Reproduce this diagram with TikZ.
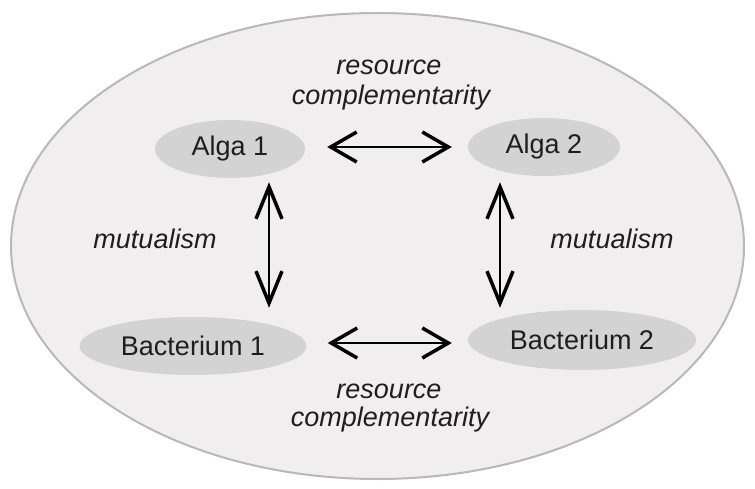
\documentclass[tikz,border=0pt]{standalone}
\usepackage{fontspec}
\setmainfont{Liberation Sans}
\usetikzlibrary{shapes.geometric,arrows.meta}
\definecolor{dishfill}{HTML}{F0EEEE}
\definecolor{dishline}{HTML}{B8B8B8}
\definecolor{orgfill}{HTML}{D3D3D3}
\definecolor{txt}{HTML}{1E1E1E}
\begin{document}
\begin{tikzpicture}[x=1pt,y=-1pt,
  org/.style={ellipse, fill=orgfill, inner sep=0pt, text=txt, font=\fontsize{27}{32}\selectfont},
  lbl/.style={text=txt, font=\fontsize{27}{32}\selectfont\itshape, inner sep=0pt, anchor=base},
  hlink/.style={draw=black, line width=2pt, {Straight Barb[length=26pt,width=30pt,line width=3.5pt]}-{Straight Barb[length=26pt,width=30pt,line width=3.5pt]}},
  vlink/.style={draw=black, line width=2pt, {Straight Barb[length=32pt,width=26pt,line width=3.5pt]}-{Straight Barb[length=32pt,width=26pt,line width=3.5pt]}}]
\useasboundingbox (0,0) rectangle (755,489);
\node[ellipse, draw=dishline, line width=2pt, fill=dishfill, inner sep=0pt,
      minimum width=733pt, minimum height=466pt] (dish) at (377.5,246) {};
\node[org, minimum width=150pt, minimum height=58pt] (a1) at (230,149) {Alga 1};
\node[org, minimum width=152pt, minimum height=58pt] (a2) at (544,147) {Alga 2};
\node[org, minimum width=227pt, minimum height=58pt] (b1) at (193,346) {Bacterium 1};
\node[org, minimum width=228pt, minimum height=60pt] (b2) at (582,340) {Bacterium 2};
\draw[hlink] ([xshift=22pt,yshift=2pt]a1.east) -- ([xshift=-16pt]a2.west);
\draw[hlink] ([xshift=21pt,yshift=3pt]b1.east) -- ([xshift=-16pt,yshift=-3pt]b2.west);
\draw[vlink] ([xshift=39pt,yshift=-4pt]a1.south) -- ([xshift=76pt,yshift=9pt]b1.north);
\draw[vlink] ([xshift=-44pt,yshift=-6pt]a2.south) -- ([xshift=-82pt,yshift=2pt]b2.north);
\node[lbl] (t1) at (389,75) {resource};
\node[lbl] (t2) at (391,105) {complementarity};
\node[lbl] (t3) at (389,398) {resource};
\node[lbl] (t4) at (390,426) {complementarity};
\node[lbl] (m1) at (155,248) {mutualism};
\node[lbl] (m2) at (612,248) {mutualism};
\end{tikzpicture}
\end{document}
